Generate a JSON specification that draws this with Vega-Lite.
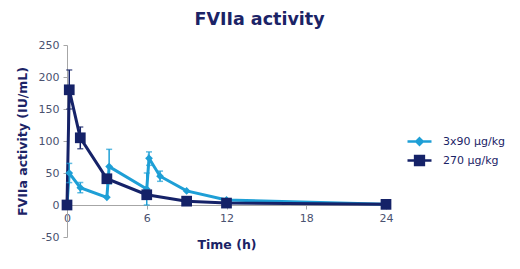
{
  "$schema": "https://vega.github.io/schema/vega-lite/v6.json",
  "width": 319,
  "height": 192,
  "autosize": {"type": "none"},
  "padding": {"left": 67, "top": 45, "right": 134, "bottom": 32},
  "background": "white",
  "title": {
    "text": "FVIIa activity",
    "font": "DejaVu Sans",
    "fontSize": 17.5,
    "fontWeight": "bold",
    "color": "#1b2366",
    "anchor": "middle",
    "dx": 33,
    "offset": 11
  },
  "config": {
    "view": {"stroke": null},
    "font": "DejaVu Sans",
    "axis": {
      "grid": false,
      "domainColor": "#a6a6a6",
      "tickColor": "#a6a6a6",
      "labelFont": "DejaVu Sans",
      "labelFontSize": 11,
      "labelColor": "#4a5270",
      "labelOverlap": false,
      "labelFlush": false,
      "titleFont": "DejaVu Sans",
      "titleFontSize": 12.5,
      "titleFontWeight": "bold",
      "titleColor": "#1b2366",
      "tickSize": 4
    }
  },
  "data": {
    "values": [
      {"series": "3x90 µg/kg", "t": 0, "v": 0},
      {"series": "3x90 µg/kg", "t": 0.17, "v": 50, "lo": 35, "hi": 65},
      {"series": "3x90 µg/kg", "t": 1, "v": 27, "lo": 19, "hi": 35},
      {"series": "3x90 µg/kg", "t": 3, "v": 12},
      {"series": "3x90 µg/kg", "t": 3.17, "v": 60, "lo": 33, "hi": 87},
      {"series": "3x90 µg/kg", "t": 6, "v": 25, "lo": 0, "hi": 50},
      {"series": "3x90 µg/kg", "t": 6.17, "v": 73, "lo": 62, "hi": 83},
      {"series": "3x90 µg/kg", "t": 7, "v": 45, "lo": 37, "hi": 53},
      {"series": "3x90 µg/kg", "t": 9, "v": 22},
      {"series": "3x90 µg/kg", "t": 12, "v": 8},
      {"series": "3x90 µg/kg", "t": 24, "v": 1},
      {"series": "270 µg/kg", "t": 0, "v": 0},
      {"series": "270 µg/kg", "t": 0.17, "v": 180, "lo": 150, "hi": 211},
      {"series": "270 µg/kg", "t": 1, "v": 105, "lo": 88, "hi": 122},
      {"series": "270 µg/kg", "t": 3, "v": 41, "lo": 35, "hi": 46},
      {"series": "270 µg/kg", "t": 6, "v": 16},
      {"series": "270 µg/kg", "t": 9, "v": 6},
      {"series": "270 µg/kg", "t": 12, "v": 3},
      {"series": "270 µg/kg", "t": 24, "v": 1}
    ]
  },
  "encoding": {
    "x": {
      "field": "t",
      "type": "quantitative",
      "scale": {"domain": [0, 24], "nice": false},
      "axis": {"values": [0, 6, 12, 18, 24], "title": "Time (h)", "offset": -32, "titlePadding": 15, "labelPadding": 3}
    },
    "y": {
      "field": "v",
      "type": "quantitative",
      "scale": {"domain": [-50, 250], "nice": false},
      "axis": {"values": [-50, 0, 50, 100, 150, 200, 250], "title": "FVIIa activity (IU/mL)", "titlePadding": 9, "labelPadding": 4, "labelOverlap": false, "labelExpr": "replace(datum.label, '−', '-')"}
    },
    "color": {
      "field": "series",
      "type": "nominal",
      "scale": {"domain": ["3x90 µg/kg", "270 µg/kg"], "range": ["#1e9fd6", "#152268"]},
      "legend": {
        "title": null,
        "orient": "none",
        "legendX": 343,
        "legendY": 87,
        "symbolSize": 256,
        "symbolStrokeWidth": 2.5,
        "symbolType": "M-1.5,0H1.5",
        "labelFont": "DejaVu Sans",
        "labelFontSize": 11,
        "labelColor": "#1b2366",
        "labelOffset": 14,
        "rowPadding": 1,
        "encode": {
          "symbols": {
            "update": {
              "shape": {"signal": "datum.value === '3x90 µg/kg' ? 'M-1.5,0H1.5M0,-0.4L0.4,0L0,0.4L-0.4,0Z' : 'M-1.5,0H1.5M-0.55,-0.55H0.55V0.55H-0.55Z'"},
              "stroke": {"signal": "datum.value === '3x90 µg/kg' ? '#1e9fd6' : '#152268'"},
              "fill": {"signal": "datum.value === '3x90 µg/kg' ? '#1e9fd6' : '#152268'"},
              "fillOpacity": {"value": 1},
              "strokeOpacity": {"value": 1}
            }
          }
        }
      }
    },
    "detail": {"field": "series"}
  },
  "layer": [
    {
      "mark": {"type": "line", "strokeWidth": 3},
      "encoding": {
        "order": {"field": "t", "type": "quantitative"}
      }
    },
    {
      "mark": {"type": "rule", "strokeWidth": 1.5},
      "encoding": {
        "y": {"field": "lo", "type": "quantitative"},
        "y2": {"field": "hi"}
      }
    },
    {
      "mark": {"type": "tick", "thickness": 1.5, "size": 6, "orient": "horizontal"},
      "encoding": {"y": {"field": "hi", "type": "quantitative"}}
    },
    {
      "mark": {"type": "tick", "thickness": 1.5, "size": 6, "orient": "horizontal"},
      "encoding": {"y": {"field": "lo", "type": "quantitative"}}
    },
    {
      "transform": [{"filter": "datum.series === '3x90 µg/kg'"}],
      "mark": {"type": "point", "filled": true, "opacity": 1, "shape": "diamond", "size": 60}
    },
    {
      "transform": [{"filter": "datum.series === '270 µg/kg'"}],
      "mark": {"type": "point", "filled": true, "opacity": 1, "shape": "square", "size": 115}
    }
  ]
}
